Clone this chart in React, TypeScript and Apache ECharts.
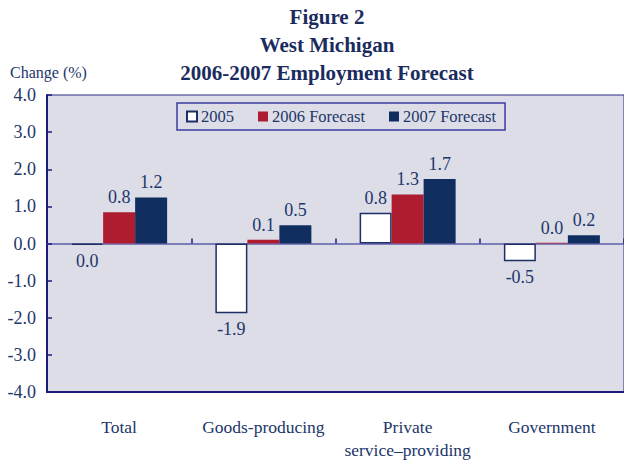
import React, { useEffect, useRef } from "react";
import * as echarts from "echarts";

const categories = ["Total", "Goods-producing", "Private\nservice–providing", "Government"];
const seriesNames = ["2005", "2006 Forecast", "2007 Forecast"];
const values2005 = [-0.04, -1.88, 0.83, -0.48];
const values2006 = [0.84, 0.1, 1.32, 0.02];
const values2007 = [1.24, 0.49, 1.74, 0.22];
const yMin = -4;
const yMax = 4;
const yInterval = 1;
const titleLines = ["Figure 2", "West Michigan", "2006-2007 Employment Forecast"];
const yAxisTitle = "Change (%)";

const FONT = "'Liberation Serif', 'Times New Roman', serif";
const NAVY_TEXT = "#22366a";

function fmt(v: number): string {
  const r = Math.round(v * 10) / 10;
  return (r === 0 ? 0 : r).toFixed(1);
}

export default function App() {
  const ref = useRef<HTMLDivElement>(null);
  useEffect(() => {
    if (!ref.current) return;
    const chart = echarts.init(ref.current, null, { renderer: "svg" });
    const styles = [
      { color: "#ffffff", borderColor: "#1f2f66", borderWidth: 1.5 },
      { color: "#ad1c2f" },
      { color: "#0f2d5f" },
    ];
    const all = [values2005, values2006, values2007];
    const series = all.map((vals, i) => ({
      name: seriesNames[i],
      type: "bar",
      xAxisIndex: 0,
      yAxisIndex: 0,
      barWidth: 32,
      barGap: "0%",
      itemStyle: styles[i],
      data: vals.map((v) => ({
        value: v,
        label: { position: v < 0 ? "bottom" : "top", distance: v < 0 ? 7 : 6 },
      })),
      label: {
        show: true,
        fontFamily: FONT,
        fontSize: 18,
        color: NAVY_TEXT,
        formatter: (p: any) => fmt(p.value),
      },
    }));

    chart.setOption({
      animation: false,
      graphic: [
        ...titleLines.map((t, i) => ({
          type: "text",
          x: 327,
          y: 17 + i * 28,
          style: {
            text: t,
            align: "center",
            verticalAlign: "middle",
            fill: "#1a2b5e",
            fontFamily: FONT,
            fontSize: 21,
            fontWeight: "bold",
          },
        })),
        {
          type: "text",
          x: 10,
          y: 72,
          style: {
            text: yAxisTitle,
            align: "left",
            verticalAlign: "middle",
            fill: NAVY_TEXT,
            fontFamily: FONT,
            fontSize: 16,
          },
        },
      ],
      legend: {
        data: seriesNames,
        left: 177,
        top: 103,
        icon: "rect",
        itemWidth: 10,
        itemHeight: 10,
        itemGap: 24,
        padding: [5, 9, 5, 9],
        borderColor: "#3b3ba0",
        borderWidth: 1.5,
        backgroundColor: "transparent",
        textStyle: { fontFamily: FONT, fontSize: 16.5, color: NAVY_TEXT, padding: [0, 0, 0, -1] },
      },
      grid: {
        left: 47,
        top: 95,
        width: 581,
        height: 306,
        show: true,
        backgroundColor: "#dcdde7",
        borderColor: "#2a2a88",
        borderWidth: 1,
        containLabel: false,
      },
      xAxis: [
        {
          type: "category",
          data: categories,
          position: "bottom",
          axisLine: { show: true, onZero: false, lineStyle: { color: "#1c1c78", width: 2 } },
          axisTick: { show: false },
          axisLabel: {
            fontFamily: FONT,
            fontSize: 17.5,
            color: NAVY_TEXT,
            margin: 23,
            lineHeight: 23,
            interval: 0,
          },
        },
        {
          type: "category",
          data: categories,
          position: "bottom",
          axisLine: { show: true, onZero: true, lineStyle: { color: "#5c5cab", width: 1.5 } },
          axisTick: { show: true, inside: true, length: 5, lineStyle: { color: "#1c1c78", width: 1.5 } },
          axisLabel: { show: false },
        },
      ],
      yAxis: {
        type: "value",
        min: yMin,
        max: yMax,
        interval: yInterval,
        axisLine: { show: true, lineStyle: { color: "#1c1c78", width: 2 } },
        axisTick: { show: true, inside: true, length: 5, lineStyle: { color: "#1c1c78", width: 1.5 } },
        splitLine: { show: false },
        axisLabel: {
          fontFamily: FONT,
          fontSize: 18,
          color: NAVY_TEXT,
          margin: 11,
          formatter: (v: number) => fmt(v),
        },
      },
      series,
    });
    return () => chart.dispose();
  }, []);
  return (
    <div
      ref={ref}
      style={{ position: "absolute", left: 0, top: 0, width: 624, height: 461, background: "#ffffff" }}
    />
  );
}
